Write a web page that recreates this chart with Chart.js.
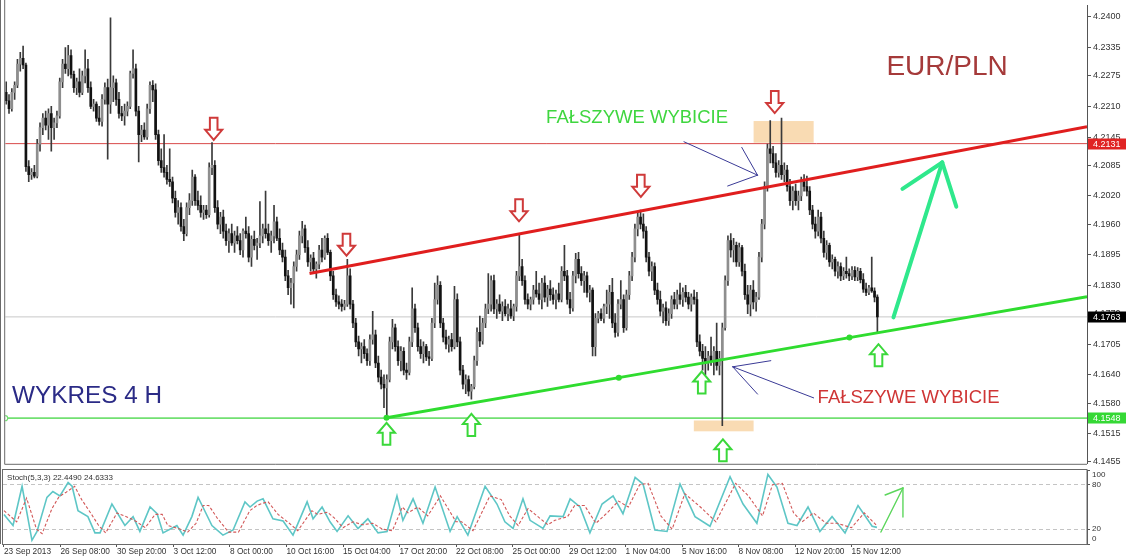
<!DOCTYPE html>
<html><head><meta charset="utf-8">
<script src="https://cdn.jsdelivr.net/npm/chart.js@4.4.0/dist/chart.umd.min.js"></script>
<style>
html,body{margin:0;padding:0;background:#fff;overflow:hidden}
#wrap{position:relative;width:1130px;height:557px;background:#fff}
#c1{position:absolute;left:0;top:0}
#c2{position:absolute;left:0;top:468px}
</style></head><body>
<div id="wrap"><canvas id="c1" width="1130" height="469"></canvas><canvas id="c2" width="1130" height="89"></canvas></div>
<script>
// ---------- DATA ----------
const openP = [
4.2240,4.2222,4.2205,4.2240,4.2255,4.2300,4.2312,4.2298,4.2082,4.2065,
4.2070,4.2062,4.2130,4.2165,4.2185,4.2170,4.2195,4.2165,4.2175,4.2190,
4.2262,4.2300,4.2290,4.2318,4.2278,4.2250,4.2262,4.2240,4.2275,4.2290,
4.2250,4.2210,4.2215,4.2185,4.2178,4.2225,4.2250,4.2215,4.2250,4.2260,
4.2225,4.2195,4.2190,4.2200,4.2210,4.2280,4.2290,4.2200,4.2150,4.2160,
4.2145,4.2205,4.2255,4.2245,4.2150,4.2095,4.2080,4.2070,4.2055,4.2050,
4.2015,4.1985,4.1995,4.1955,4.1940,4.1995,4.2010,4.2060,4.2010,4.2000,
4.1985,4.1990,4.1980,4.2080,4.2085,4.1995,4.1960,4.1975,4.1945,4.1925,
4.1940,4.1920,4.1935,4.1925,4.1905,4.1945,4.1940,4.1890,4.1928,4.1915,
4.1920,4.1935,4.1950,4.1940,4.1925,4.1935,4.1965,4.1930,4.1905,4.1890,
4.1850,4.1825,4.1835,4.1870,4.1895,4.1935,4.1950,4.1910,4.1880,4.1888,
4.1865,4.1875,4.1905,4.1890,4.1930,4.1900,4.1850,4.1810,4.1795,4.1790,
4.1785,4.1790,4.1850,4.1790,4.1750,4.1710,4.1695,4.1700,4.1685,4.1670,
4.1715,4.1725,4.1665,4.1635,4.1620,4.1612,4.1630,4.1710,4.1740,4.1700,
4.1670,4.1690,4.1650,4.1645,4.1710,4.1780,4.1740,4.1700,4.1685,4.1700,
4.1678,4.1675,4.1750,4.1800,4.1830,4.1750,4.1720,4.1705,4.1715,4.1700,
4.1800,4.1710,4.1650,4.1620,4.1630,4.1605,4.1615,4.1670,4.1730,4.1712,
4.1750,4.1780,4.1790,4.1840,4.1780,4.1790,4.1775,4.1785,4.1770,4.1780,
4.1765,4.1785,4.1850,4.1870,4.1840,4.1800,4.1790,4.1800,4.1820,4.1812,
4.1800,4.1835,4.1805,4.1822,4.1810,4.1800,4.1812,4.1800,4.1860,4.1850,
4.1800,4.1782,4.1850,4.1885,4.1855,4.1840,4.1850,4.1815,4.1820,4.1700,
4.1760,4.1770,4.1760,4.1785,4.1790,4.1815,4.1750,4.1730,4.1790,4.1800,
4.1740,4.1810,4.1850,4.1890,4.1950,4.1975,4.1960,4.1945,4.1890,4.1860,
4.1870,4.1820,4.1800,4.1775,4.1782,4.1755,4.1770,4.1800,4.1790,4.1810,
4.1800,4.1815,4.1805,4.1790,4.1805,4.1800,4.1710,4.1690,4.1675,4.1665,
4.1680,4.1670,4.1690,4.1660,4.1675,4.1740,4.1840,4.1925,4.1905,4.1915,
4.1880,4.1910,4.1860,4.1810,4.1790,4.1820,4.1795,4.1805,4.1890,4.1960,
4.2040,4.2120,4.2110,4.2090,4.2070,4.2085,4.2065,4.2075,4.2040,4.2010,
4.2030,4.2010,4.2020,4.2050,4.2040,4.2030,4.1990,4.1960,4.1945,4.1975,
4.1930,4.1900,4.1915,4.1880,4.1885,4.1860,4.1870,4.1850,4.1860,4.1855,
4.1850,4.1862,4.1848,4.1860,4.1842,4.1822,4.1815,4.1825,4.1818,4.1805];
const highP = [
4.2262,4.2235,4.2248,4.2262,4.2310,4.2325,4.2338,4.2302,4.2095,4.2078,
4.2085,4.2140,4.2175,4.2195,4.2200,4.2205,4.2210,4.2185,4.2200,4.2270,
4.2310,4.2335,4.2340,4.2330,4.2285,4.2270,4.2290,4.2285,4.2330,4.2310,
4.2262,4.2225,4.2220,4.2210,4.2235,4.2260,4.2268,4.2398,4.2275,4.2268,
4.2240,4.2210,4.2215,4.2220,4.2285,4.2330,4.2300,4.2210,4.2170,4.2175,
4.2215,4.2262,4.2265,4.2258,4.2160,4.2120,4.2150,4.2085,4.2120,4.2060,
4.2030,4.2010,4.2005,4.1970,4.2005,4.2025,4.2075,4.2065,4.2030,4.2020,
4.2000,4.2000,4.2090,4.2133,4.2095,4.2010,4.1985,4.1990,4.1960,4.1950,
4.1960,4.1945,4.1955,4.1940,4.1950,4.1975,4.1955,4.1935,4.1945,4.1930,
4.2008,4.1960,4.2030,4.1960,4.1945,4.2000,4.1975,4.1950,4.1920,4.1905,
4.1862,4.1845,4.1880,4.1905,4.1945,4.1966,4.1958,4.1925,4.1895,4.1900,
4.1880,4.1915,4.1930,4.1935,4.1940,4.1905,4.1860,4.1822,4.1808,4.1800,
4.1798,4.1885,4.1865,4.1798,4.1760,4.1722,4.1708,4.1715,4.1695,4.1725,
4.1775,4.1735,4.1680,4.1650,4.1640,4.1640,4.1720,4.1758,4.1748,4.1712,
4.1700,4.1698,4.1665,4.1720,4.1825,4.1790,4.1750,4.1715,4.1710,4.1705,
4.1690,4.1760,4.1835,4.1850,4.1838,4.1760,4.1735,4.1722,4.1728,4.1828,
4.1812,4.1720,4.1660,4.1640,4.1638,4.1620,4.1680,4.1740,4.1765,4.1760,
4.1790,4.1855,4.1850,4.1852,4.1800,4.1810,4.1795,4.1800,4.1790,4.1798,
4.1790,4.1860,4.1938,4.1885,4.1850,4.1812,4.1805,4.1830,4.1860,4.1835,
4.1845,4.1850,4.1830,4.1840,4.1825,4.1820,4.1835,4.1870,4.1915,4.1862,
4.1815,4.1860,4.1898,4.1900,4.1870,4.1860,4.1858,4.1830,4.1825,4.1770,
4.1775,4.1780,4.1790,4.1820,4.1830,4.1845,4.1770,4.1800,4.1840,4.1810,
4.1820,4.1860,4.1900,4.1960,4.1985,4.1990,4.1982,4.1955,4.1900,4.1880,
4.1878,4.1835,4.1818,4.1790,4.1795,4.1780,4.1808,4.1815,4.1820,4.1835,
4.1825,4.1830,4.1815,4.1812,4.1820,4.1815,4.1725,4.1705,4.1700,4.1690,
4.1720,4.1700,4.1750,4.1690,4.1750,4.1850,4.1935,4.1940,4.1930,4.1922,
4.1920,4.1915,4.1875,4.1830,4.1830,4.1840,4.1815,4.1900,4.1970,4.2050,
4.2130,4.2180,4.2125,4.2110,4.2095,4.2185,4.2090,4.2085,4.2055,4.2040,
4.2045,4.2030,4.2060,4.2065,4.2062,4.2040,4.2000,4.1975,4.1990,4.1985,
4.1945,4.1925,4.1920,4.1895,4.1890,4.1880,4.1878,4.1868,4.1890,4.1865,
4.1870,4.1870,4.1868,4.1866,4.1855,4.1835,4.1830,4.1890,4.1825,4.1810];
const lowP = [
4.2215,4.2195,4.2200,4.2225,4.2250,4.2285,4.2290,4.2072,4.2050,4.2055,
4.2058,4.2058,4.2115,4.2150,4.2160,4.2140,4.2115,4.2140,4.2165,4.2185,
4.2250,4.2280,4.2275,4.2270,4.2240,4.2235,4.2230,4.2235,4.2260,4.2240,
4.2205,4.2200,4.2178,4.2170,4.2168,4.2215,4.2098,4.2195,4.2220,4.2212,
4.2185,4.2180,4.2170,4.2190,4.2205,4.2270,4.2190,4.2092,4.2135,4.2140,
4.2140,4.2195,4.2220,4.2140,4.2085,4.2070,4.2060,4.2045,4.2040,4.2005,
4.1975,4.1960,4.1945,4.1925,4.1935,4.1980,4.2000,4.2000,4.1990,4.1975,
4.1970,4.1972,4.1975,4.2065,4.1985,4.1950,4.1940,4.1930,4.1915,4.1900,
4.1915,4.1900,4.1918,4.1895,4.1890,4.1930,4.1880,4.1870,4.1905,4.1885,
4.1910,4.1920,4.1930,4.1915,4.1900,4.1920,4.1925,4.1895,4.1880,4.1840,
4.1810,4.1790,4.1782,4.1860,4.1885,4.1920,4.1900,4.1870,4.1860,4.1855,
4.1845,4.1865,4.1880,4.1885,4.1895,4.1840,4.1800,4.1785,4.1780,4.1775,
4.1778,4.1785,4.1780,4.1740,4.1700,4.1680,4.1665,4.1675,4.1660,4.1660,
4.1705,4.1655,4.1625,4.1610,4.1570,4.1549,4.1625,4.1695,4.1690,4.1660,
4.1648,4.1640,4.1630,4.1640,4.1700,4.1730,4.1690,4.1675,4.1665,4.1670,
4.1660,4.1670,4.1740,4.1790,4.1740,4.1710,4.1695,4.1688,4.1690,4.1695,
4.1700,4.1640,4.1610,4.1600,4.1595,4.1588,4.1610,4.1660,4.1700,4.1705,
4.1740,4.1770,4.1775,4.1770,4.1760,4.1770,4.1755,4.1765,4.1755,4.1760,
4.1755,4.1775,4.1840,4.1830,4.1790,4.1780,4.1778,4.1790,4.1805,4.1790,
4.1780,4.1795,4.1785,4.1798,4.1790,4.1780,4.1795,4.1795,4.1840,4.1790,
4.1770,4.1775,4.1835,4.1845,4.1830,4.1815,4.1805,4.1795,4.1680,4.1680,
4.1750,4.1755,4.1750,4.1770,4.1760,4.1740,4.1720,4.1722,4.1780,4.1730,
4.1735,4.1800,4.1840,4.1880,4.1935,4.1950,4.1930,4.1880,4.1850,4.1840,
4.1810,4.1790,4.1765,4.1750,4.1745,4.1745,4.1760,4.1780,4.1780,4.1790,
4.1785,4.1795,4.1780,4.1775,4.1790,4.1700,4.1680,4.1650,4.1640,4.1650,
4.1660,4.1640,4.1650,4.1640,4.1532,4.1735,4.1830,4.1890,4.1880,4.1870,
4.1870,4.1850,4.1800,4.1770,4.1765,4.1780,4.1775,4.1800,4.1880,4.1950,
4.2030,4.2090,4.2080,4.2060,4.2060,4.2055,4.2050,4.2030,4.2000,4.1990,
4.2000,4.1990,4.2010,4.2030,4.2020,4.1980,4.1950,4.1930,4.1935,4.1920,
4.1890,4.1885,4.1870,4.1865,4.1850,4.1845,4.1840,4.1842,4.1845,4.1840,
4.1842,4.1840,4.1840,4.1835,4.1815,4.1808,4.1810,4.1815,4.1795,4.1730];
const closeP = [
4.2222,4.2205,4.2240,4.2255,4.2300,4.2312,4.2298,4.2082,4.2065,4.2070,
4.2062,4.2130,4.2165,4.2185,4.2170,4.2195,4.2165,4.2175,4.2190,4.2262,
4.2300,4.2290,4.2318,4.2278,4.2250,4.2262,4.2240,4.2275,4.2290,4.2250,
4.2210,4.2215,4.2185,4.2178,4.2225,4.2250,4.2215,4.2250,4.2260,4.2225,
4.2195,4.2190,4.2200,4.2210,4.2280,4.2290,4.2200,4.2150,4.2160,4.2145,
4.2205,4.2255,4.2245,4.2150,4.2095,4.2080,4.2070,4.2055,4.2050,4.2015,
4.1985,4.1995,4.1955,4.1940,4.1995,4.2010,4.2060,4.2010,4.2000,4.1985,
4.1990,4.1980,4.2080,4.2085,4.1995,4.1960,4.1975,4.1945,4.1925,4.1940,
4.1920,4.1935,4.1925,4.1905,4.1945,4.1940,4.1890,4.1928,4.1915,4.1920,
4.1935,4.1950,4.1940,4.1925,4.1935,4.1965,4.1930,4.1905,4.1890,4.1850,
4.1825,4.1835,4.1870,4.1895,4.1935,4.1950,4.1910,4.1880,4.1888,4.1865,
4.1875,4.1905,4.1890,4.1930,4.1900,4.1850,4.1810,4.1795,4.1790,4.1785,
4.1790,4.1850,4.1790,4.1750,4.1710,4.1695,4.1700,4.1685,4.1670,4.1715,
4.1725,4.1665,4.1635,4.1620,4.1612,4.1630,4.1710,4.1740,4.1700,4.1670,
4.1690,4.1650,4.1645,4.1710,4.1780,4.1740,4.1700,4.1685,4.1700,4.1678,
4.1675,4.1750,4.1800,4.1830,4.1750,4.1720,4.1705,4.1715,4.1700,4.1800,
4.1710,4.1650,4.1620,4.1630,4.1605,4.1615,4.1670,4.1730,4.1712,4.1750,
4.1780,4.1790,4.1840,4.1780,4.1790,4.1775,4.1785,4.1770,4.1780,4.1765,
4.1785,4.1850,4.1870,4.1840,4.1800,4.1790,4.1800,4.1820,4.1812,4.1800,
4.1835,4.1805,4.1822,4.1810,4.1800,4.1812,4.1800,4.1860,4.1850,4.1800,
4.1782,4.1850,4.1885,4.1855,4.1840,4.1850,4.1815,4.1820,4.1700,4.1760,
4.1770,4.1760,4.1785,4.1790,4.1815,4.1750,4.1730,4.1790,4.1800,4.1740,
4.1810,4.1850,4.1890,4.1950,4.1975,4.1960,4.1945,4.1890,4.1860,4.1870,
4.1820,4.1800,4.1775,4.1782,4.1755,4.1770,4.1800,4.1790,4.1810,4.1800,
4.1815,4.1805,4.1790,4.1805,4.1800,4.1710,4.1690,4.1675,4.1665,4.1680,
4.1670,4.1690,4.1660,4.1675,4.1740,4.1840,4.1925,4.1905,4.1915,4.1880,
4.1910,4.1860,4.1810,4.1790,4.1820,4.1795,4.1805,4.1890,4.1960,4.2040,
4.2120,4.2110,4.2090,4.2070,4.2085,4.2065,4.2075,4.2040,4.2010,4.2030,
4.2010,4.2020,4.2050,4.2040,4.2030,4.1990,4.1960,4.1945,4.1975,4.1930,
4.1900,4.1915,4.1880,4.1885,4.1860,4.1870,4.1850,4.1860,4.1855,4.1850,
4.1862,4.1848,4.1860,4.1842,4.1822,4.1815,4.1825,4.1818,4.1805,4.1763];

const dateLabels = ['23 Sep 2013','26 Sep 08:00','30 Sep 20:00','3 Oct 12:00','8 Oct 00:00','10 Oct 16:00','15 Oct 04:00','17 Oct 20:00','22 Oct 08:00','25 Oct 00:00','29 Oct 12:00','1 Nov 04:00','5 Nov 16:00','8 Nov 08:00','12 Nov 20:00','15 Nov 12:00'];
const labelBars = [0,20,40,60,80,100,120,140,160,180,200,220,240,260,280,300];
const priceTicks = [4.2400,4.2335,4.2275,4.2210,4.2145,4.2085,4.2020,4.1960,4.1895,4.1830,4.1770,4.1705,4.1640,4.1580,4.1515,4.1455];
const stochTicks = [100,80,20,0];

const levelRed = 4.2131, levelGray = 4.1763, levelGreen = 4.1548;
const redTrend = [[107.6,4.1855],[383.35,4.2167]];
const greenTrend = [[134.9,4.1549],[217.3,4.1634],[299.1,4.1719],[383.35,4.1806]];

const kX = [0,3.2,6.4,9.9,11.7,15.2,17.3,19.8,22.7,24.1,26.2,29.7,32.2,34,38.2,42.8,45.7,48.1,51.7,54.2,56.3,61.2,63.4,66.5,68.7,70.4,73.6,77.5,81.1,85.3,87.1,89.6,91.7,95.2,98.8,102.3,107.3,109.4,112.6,115.4,117.9,121.8,125.3,128.8,132.4,135.6,139.1,141.2,144.8,148.3,152.6,157.9,160.4,164.2,170.3,174.5,177.3,180.2,183.7,186.2,190.8,193.3,197.9,200.4,203.9,207.4,211.7,215.6,219.1,223.4,226.2,230.4,234.7,239.3,244.6,249.9,257,261.6,266.5,270.4,273.6,277.5,280.7,284.6,288.8,293.1,297.7,302.3,307.3,309];
const kY = [40,25,78,5,17,63,71,65,83,78,45,37,15,15,54,25,37,17,50,41,15,25,12,37,63,50,25,12,19,57,50,58,61,34,31,12,57,34,50,30,17,38,21,34,15,17,65,32,61,28,77,17,37,12,78,54,30,21,61,32,21,38,37,61,50,15,54,65,41,90,81,19,17,81,37,24,91,54,28,94,77,28,25,50,17,37,15,52,24,22.449];
const dX = [0,1.5,4.5,8,11.5,13.5,17,19.5,22,25,27.5,31,33.5,36,40,44.5,47,50,53.5,56,58,62.5,65,68,70.5,72.5,75.5,79.5,83,87,89.5,91.5,93.5,97,101,104,109,111,114.5,117,120,123.5,127,130.5,134,137.5,141,143,146.5,150,154.5,160,162,166,172,176,179,182,185.5,188,192.5,195,199.5,202,205.5,209.5,213.5,217.5,221,225,228,232.5,236.5,241,246.5,252,259,263.5,268.5,272,275.5,279.5,282.5,286.5,291,295,300,304.5,309];
const dY = [45,40,30,62,20,14,48,64,70,78,60,40,25,15,42,35,30,22,40,40,25,20,16,28,52,52,35,16,16,45,52,55,57,40,28,18,45,40,43,35,22,30,26,28,20,18,50,42,50,38,65,30,30,18,65,60,38,25,48,40,26,32,37,52,52,28,42,58,50,80,82,38,20,68,50,30,82,65,38,80,82,42,30,42,28,28,22,42,24.6333];

// annotations in data coordinates (bar index, price)
const downMarks = [[73.6,4.2139],[120.7,4.1893],[181.9,4.1966],[225.1,4.2018],[272.6,4.2196]];
const upMarks = [[134.9,4.1538],[165,4.1557],[246.7,4.1647],[254.2,4.1503],[309.4,4.1705]];
const hiliteBoxes = [[265.1,286.4,4.2179,4.2133],[243.9,265.1,4.1543,4.1520]];
const pointers = [
  {tip:[266.5,4.2064], tail:[240.4,4.2135], barbs:[[260.9,4.2123],[255.9,4.2041]]},
  {tip:[257.7,4.1657], tail:[286.4,4.1591], barbs:[[271.2,4.1670],[266.5,4.1599]]}
];
const bigArrow = {tip:[332.0,4.2091], tail:[314.7,4.1762], barbs:[[317.9,4.2035],[337.0,4.1997]]};
const stochArrow = {tip:[318.2,75.7], tail:[310.4,16.2], barbs:[[311.9,66.2],[318.2,36.5]]};
const notes = [
  {text:'EUR/PLN', at:[312.2,4.2277], color:'#a53a3a', size:28},
  {text:'FAŁSZYWE WYBICIE', at:[191.5,4.2175], color:'#3fd63f', size:18.5},
  {text:'FAŁSZYWE WYBICIE', at:[287.8,4.1580], color:'#cf3535', size:18.5},
  {text:'WYKRES 4 H', at:[2.1,4.1580], color:'#2b2b86', size:24.3}
];
const priceBoxes = [[levelRed,'#e02424'],[levelGray,'#000000'],[levelGreen,'#35d835']];

const XMIN = -0.35, XMAX = 383.35;

// ---------- helpers ----------
function P(chart, pt){ return [chart.scales.x.getPixelForValue(pt[0]), chart.scales.y.getPixelForValue(pt[1])]; }
function drawPointer(ctx, chart, a, color, w){
  const t = P(chart, a.tip);
  ctx.save(); ctx.strokeStyle = color; ctx.lineWidth = w; ctx.lineCap='round';
  [a.tail].concat(a.barbs).forEach(q=>{ const p=P(chart,q); ctx.beginPath(); ctx.moveTo(p[0],p[1]); ctx.lineTo(t[0],t[1]); ctx.stroke(); });
  ctx.restore();
}
function blockArrow(ctx, x, y, dir, color){
  const hw=8.5, sw=3.8, hh=10, L=22, s=-dir;
  ctx.beginPath();
  ctx.moveTo(x,y); ctx.lineTo(x-hw,y+s*hh); ctx.lineTo(x-sw,y+s*hh); ctx.lineTo(x-sw,y+s*L);
  ctx.lineTo(x+sw,y+s*L); ctx.lineTo(x+sw,y+s*hh); ctx.lineTo(x+hw,y+s*hh); ctx.closePath();
  ctx.fillStyle='#fff'; ctx.fill(); ctx.lineWidth=2; ctx.strokeStyle=color; ctx.stroke();
}

const annotA = {
  id:'annotA',
  beforeDatasetsDraw(chart){
    const ctx = chart.ctx; const {x,y} = chart.scales;
    ctx.save(); ctx.fillStyle='rgba(248,210,160,0.8)';
    hiliteBoxes.forEach(b=>{ const x0=x.getPixelForValue(b[0]), x1=x.getPixelForValue(b[1]), y0=y.getPixelForValue(b[2]), y1=y.getPixelForValue(b[3]); ctx.fillRect(x0,y0,x1-x0,y1-y0); });
    ctx.restore();
  },
  afterDatasetsDraw(chart){
    const ctx = chart.ctx;
    ctx.save();
    downMarks.forEach(m=>{ const p=P(chart,m); blockArrow(ctx,p[0],p[1],1,'#cf3a3a'); });
    upMarks.forEach(m=>{ const p=P(chart,m); blockArrow(ctx,p[0],p[1],-1,'#3ad83a'); });
    pointers.forEach(a=>drawPointer(ctx, chart, a, '#3a3a96', 1));
    drawPointer(ctx, chart, bigArrow, '#2fe88c', 4);
    notes.forEach(n=>{ const p=P(chart,n.at); ctx.font = n.size+'px "Liberation Sans", Arial, sans-serif'; ctx.fillStyle=n.color; ctx.textBaseline='alphabetic'; ctx.textAlign='left'; ctx.fillText(n.text,p[0],p[1]); });
    ctx.restore();
  },
  afterDraw(chart){
    const ctx = chart.ctx; const a = chart.chartArea; const y = chart.scales.y;
    ctx.save();
    ctx.strokeStyle='#6a6a6a'; ctx.lineWidth=1;
    ctx.beginPath(); ctx.moveTo(a.left-0.5,0); ctx.lineTo(a.left-0.5,a.bottom+0.5); ctx.lineTo(a.right,a.bottom+0.5); ctx.stroke();
    ctx.beginPath(); ctx.moveTo(0.5,0); ctx.lineTo(0.5,469); ctx.stroke();
    priceBoxes.forEach(b=>{
      const py = Math.round(y.getPixelForValue(b[0]));
      ctx.fillStyle=b[1]; ctx.fillRect(a.right+1, py-5.5, 38, 11);
      ctx.fillStyle='#fff'; ctx.font='9px "Liberation Sans", Arial, sans-serif'; ctx.textBaseline='middle'; ctx.textAlign='left';
      ctx.fillText(b[0].toFixed(4), a.right+6, py+0.5);
    });
    ctx.restore();
  }
};

const annotB = {
  id:'annotB',
  afterDatasetsDraw(chart){
    const ctx = chart.ctx; const a = chart.chartArea;
    ctx.save();
    drawPointer(ctx, chart, stochArrow, '#5cd65c', 1.4);
    const p = P(chart,[kX[0]+1.1, 86]);
    ctx.font='8px "Liberation Sans", Arial, sans-serif'; ctx.fillStyle='#333'; ctx.textBaseline='alphabetic'; ctx.textAlign='left';
    ctx.fillText('Stoch(5,3,3) '+kY[kY.length-1].toFixed(4)+' '+dY[dY.length-1].toFixed(4), p[0], p[1]);
    ctx.restore();
  },
  afterDraw(chart){
    const ctx = chart.ctx; const a = chart.chartArea;
    ctx.save(); ctx.strokeStyle='#6a6a6a'; ctx.lineWidth=1;
    ctx.strokeRect(a.left-0.5, a.top-0.5, a.right-a.left+0.5, a.bottom-a.top+1);
    ctx.beginPath(); ctx.moveTo(0.5,0); ctx.lineTo(0.5,a.bottom); ctx.stroke();
    ctx.restore();
  }
};

const hline = (v, color, w) => ({type:'line', data:[{x:XMIN,y:v},{x:XMAX,y:v}], borderColor:color, borderWidth:w, pointRadius:0, order:5});

new Chart(document.getElementById('c1'), {
  type:'bar',
  data:{ datasets:[
    {type:'line', label:'resistance', data: redTrend.map(p=>({x:p[0],y:p[1]})), borderColor:'#e01e1e', borderWidth:3, pointRadius:0, order:0},
    {type:'line', label:'support', data: greenTrend.map(p=>({x:p[0],y:p[1]})), borderColor:'#2fdc2f', borderWidth:3, pointRadius:[3,3,3,0], pointBackgroundColor:'#2fdc2f', pointBorderWidth:0, order:0},
    {type:'bar', label:'body', data: openP.map((o,i)=>({x:i, y:[o, closeP[i]]})),
      backgroundColor: c => (closeP[c.dataIndex] >= openP[c.dataIndex] ? '#8e8e8e' : '#121212'),
      barThickness:2, grouped:false, minBarLength:1, order:1},
    {type:'bar', label:'wick', data: highP.map((h,i)=>({x:i, y:[lowP[i], h]})), backgroundColor:'#3a3a3a', barThickness:1, grouped:false, order:2},
    hline(levelRed,'#d84a4a',1),
    hline(levelGray,'#c8c8c8',1),
    Object.assign(hline(levelGreen,'#72e072',1.6), {pointRadius:[2.5,0], pointBackgroundColor:'#fff', pointBorderColor:'#72e072', pointBorderWidth:1.2})
  ]},
  options:{
    responsive:false, animation:false, devicePixelRatio:1, events:[],
    layout:{padding:{left:3, top:0, right:0, bottom:2}},
    plugins:{legend:{display:false}, tooltip:{enabled:false}},
    scales:{
      x:{type:'linear', min:XMIN, max:XMAX, display:false, offset:false},
      y:{position:'right', min:4.1451, max:4.2425,
         afterBuildTicks: s => { s.ticks = priceTicks.map(v=>({value:v})); },
         afterFit: s => { s.width = 43; s.paddingTop = 0; s.paddingBottom = 0; },
         ticks:{autoSkip:false, callback: v => Number(v).toFixed(4), font:{family:'"Liberation Sans", Arial, sans-serif', size:9}, color:'#333', padding:2},
         grid:{drawOnChartArea:false, tickLength:4, color:'#555'},
         border:{color:'#555'}}
    }
  },
  plugins:[annotA]
});

new Chart(document.getElementById('c2'), {
  type:'line',
  data:{ datasets:[
    {label:'%K', data: kX.map((x,i)=>({x:x, y:kY[i]})), borderColor:'#5ec6c6', borderWidth:1.6, pointRadius:0, tension:0, order:1},
    {label:'%D', data: dX.map((x,i)=>({x:x, y:dY[i]})), borderColor:'#d25858', borderWidth:1.1, borderDash:[3,2], pointRadius:0, tension:0, order:0}
  ]},
  options:{
    responsive:false, animation:false, devicePixelRatio:1, events:[],
    layout:{padding:{left:3, top:2, right:0, bottom:0}},
    plugins:{legend:{display:false}, tooltip:{enabled:false}},
    scales:{
      x:{type:'linear', min:XMIN, max:XMAX, position:'bottom', offset:false,
         afterBuildTicks: s => { s.ticks = labelBars.map(v=>({value:v})); },
         afterFit: s => { s.height = 13; s.paddingLeft = 0; s.paddingRight = 0; },
         ticks:{autoSkip:false, maxRotation:0, align:'start', padding:0, callback: v => { const k = labelBars.indexOf(v); return k>=0 ? dateLabels[k] : ''; }, font:{family:'"Liberation Sans", Arial, sans-serif', size:8.3}, color:'#333'},
         grid:{drawOnChartArea:false, tickLength:3, color:'#555'},
         border:{color:'#6a6a6a'}},
      y:{position:'right', min:0, max:100,
         afterBuildTicks: s => { s.ticks = stochTicks.map(v=>({value:v})); },
         afterFit: s => { s.width = 43; s.paddingTop = 0; s.paddingBottom = 0; },
         ticks:{autoSkip:false, padding:2, font:{family:'"Liberation Sans", Arial, sans-serif', size:8}, color:'#333',
           callback: v => v === 100 ? ['', '100'] : (v === 0 ? ['0', ''] : String(v))},
         grid:{color: c => (c.tick && (c.tick.value === 80 || c.tick.value === 20)) ? '#c4c4c4' : 'rgba(0,0,0,0)', tickColor:'#555', tickLength:3},
         border:{color:'#555', dash:[4,3]}}
    }
  },
  plugins:[annotB]
});
</script>
</body></html>
